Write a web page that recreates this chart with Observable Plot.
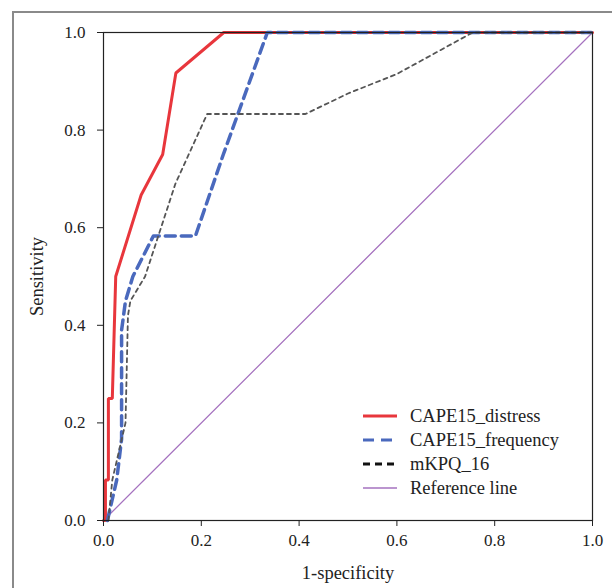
<!DOCTYPE html>
<html>
<head>
<meta charset="utf-8">
<script src="https://cdn.jsdelivr.net/npm/d3@7"></script>
<script src="https://cdn.jsdelivr.net/npm/@observablehq/plot@0.6"></script>
<style>
  html, body { margin: 0; padding: 0; background: #fff; overflow: hidden; }
  #wrap { position: relative; width: 612px; height: 588px; }
  #border { position: absolute; left: 12px; top: 11px; width: 700px; height: 700px;
            border: 2px solid #8a8a8a; box-sizing: border-box; }
  #chart { position: absolute; left: 0; top: 0; }
  #legend { position: absolute; left: 362px; top: 404px; font-family: "Liberation Serif", serif;
            font-size: 18.5px; color: #222; line-height: 24px; }
  #legend .row { display: flex; align-items: center; height: 24px; }
  #legend svg { margin-right: 12px; }
</style>
</head>
<body>
<div id="wrap">
  <div id="border"></div>
  <div id="chart"></div>
  <div id="legend"></div>
</div>
<script>
// Series (1-specificity, sensitivity)
const distressX  = [0, 0.004, 0.004, 0.010, 0.010, 0.018, 0.025, 0.077, 0.121, 0.148, 0.246, 1];
const distressY  = [0, 0, 0.083, 0.083, 0.25, 0.25, 0.5, 0.667, 0.75, 0.917, 1, 1];
const frequencyX = [0.008, 0.027, 0.032, 0.037, 0.037, 0.045, 0.060, 0.102, 0.188, 0.245, 0.335, 1];
const frequencyY = [0, 0.083, 0.125, 0.167, 0.39, 0.45, 0.5, 0.583, 0.583, 0.75, 1, 1];
const mkpqX = [0.010, 0.018, 0.045, 0.050, 0.055, 0.085, 0.147, 0.212, 0.413, 0.5, 0.6, 0.755, 1];
const mkpqY = [0, 0.083, 0.2, 0.42, 0.45, 0.5, 0.69, 0.833, 0.833, 0.875, 0.915, 1, 1];
const refX = [0, 1];
const refY = [0, 1];

const xTicks = [0, 0.2, 0.4, 0.6, 0.8, 1.0];
const yTicks = [0, 0.2, 0.4, 0.6, 0.8, 1.0];
const seriesNames = ["CAPE15_distress", "CAPE15_frequency", "mKPQ_16", "Reference line"];

const toPts = (xs, ys) => xs.map((x, i) => ({x, y: ys[i]}));
const distress = toPts(distressX, distressY);
const frequency = toPts(frequencyX, frequencyY);
const mkpq = toPts(mkpqX, mkpqY);
const ref = toPts(refX, refY);

const styles = [
  {stroke: "#e8363c", strokeWidth: 3, dash: null},
  {stroke: "#4a69bd", strokeWidth: 3.5, dash: "10,6"},
  {stroke: "#555555", strokeWidth: 1.8, dash: "4,4"},
  {stroke: "#a572bf", strokeWidth: 1.3, dash: null}
];

const chart = Plot.plot({
  width: 612,
  height: 588,
  marginLeft: 103,
  marginRight: 20,
  marginTop: 32,
  marginBottom: 68,
  style: {fontFamily: "Liberation Serif, serif", fontSize: "17px", color: "#222", background: "transparent"},
  x: {domain: [0, 1]},
  y: {domain: [0, 1]},
  marks: [
    Plot.line(ref, {x: "x", y: "y", stroke: styles[3].stroke, strokeWidth: styles[3].strokeWidth}),
    Plot.line(distress, {x: "x", y: "y", stroke: styles[0].stroke, strokeWidth: styles[0].strokeWidth, strokeLinejoin: "miter"}),
    Plot.line(frequency, {x: "x", y: "y", stroke: styles[1].stroke, strokeWidth: styles[1].strokeWidth, strokeDasharray: styles[1].dash}),
    Plot.line(mkpq, {x: "x", y: "y", stroke: styles[2].stroke, strokeWidth: styles[2].strokeWidth, strokeDasharray: styles[2].dash}),
    Plot.frame({stroke: "#222", strokeWidth: 1.2}),
    Plot.axisX({ticks: xTicks, tickFormat: d => d.toFixed(1), tickSize: 6, tickPadding: 7,
                label: "1-specificity", labelAnchor: "center", labelArrow: "none", labelOffset: 58, fontSize: 17}),
    Plot.axisY({ticks: yTicks, tickFormat: d => d.toFixed(1), tickSize: 6, tickPadding: 12,
                label: "Sensitivity", labelAnchor: "center", labelArrow: "none", labelOffset: 74, fontSize: 17})
  ]
});
chart.querySelectorAll("[aria-label='x-axis label'] text, [aria-label='y-axis label'] text").forEach(t => t.style.fontSize = "18.5px");
document.getElementById("chart").appendChild(chart);

// Legend
const legend = document.getElementById("legend");
seriesNames.forEach((name, i) => {
  const s = styles[i];
  const row = document.createElement("div");
  row.className = "row";
  const ns = "http://www.w3.org/2000/svg";
  const sw = document.createElementNS(ns, "svg");
  sw.setAttribute("width", 36); sw.setAttribute("height", 10);
  const ln = document.createElementNS(ns, "line");
  ln.setAttribute("x1", 1); ln.setAttribute("x2", 35); ln.setAttribute("y1", 5); ln.setAttribute("y2", 5);
  ln.setAttribute("stroke", i === 2 ? "#111" : s.stroke);
  ln.setAttribute("stroke-width", i === 3 ? 1.6 : 3.2);
  if (i === 1) ln.setAttribute("stroke-dasharray", "11,7");
  if (i === 2) ln.setAttribute("stroke-dasharray", "7,5");
  sw.appendChild(ln);
  row.appendChild(sw);
  const tx = document.createElement("span");
  tx.textContent = name;
  row.appendChild(tx);
  legend.appendChild(row);
});
</script>
</body>
</html>
